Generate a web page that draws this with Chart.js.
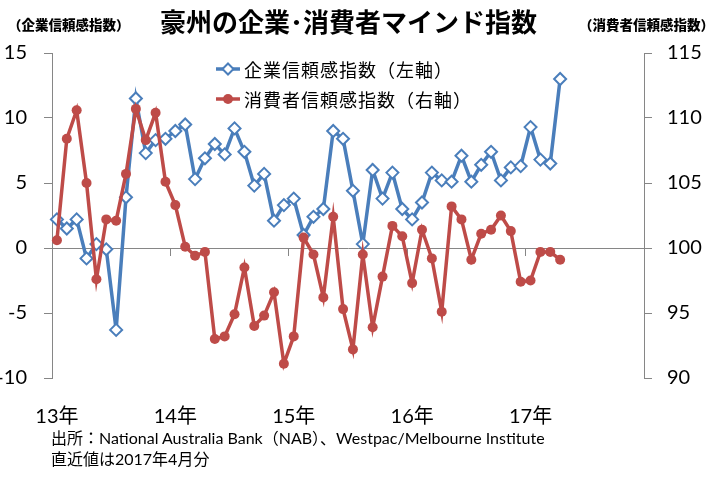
<!DOCTYPE html>
<html lang="ja">
<head>
<meta charset="utf-8">
<title>豪州の企業・消費者マインド指数</title>
<script src="https://cdn.jsdelivr.net/npm/chart.js@4/dist/chart.umd.min.js"></script>
<style>
  html, body { margin: 0; padding: 0; background: #fff; }
  #wrap { position: relative; width: 717px; height: 485px; font-family: "Noto Sans CJK JP", sans-serif; color: #000; }
  #wrap canvas { position: absolute; left: 0; top: 0; }
  .txt { position: absolute; white-space: nowrap; line-height: 1; }
  #title { left: 160px; top: 8px; font-size: 26px; font-weight: bold; }
  .axis-title { top: 18px; font-size: 13.5px; font-weight: 900; }
  #lt { left: 8px; }
  #rt { left: 579px; }
  .legend-row { position: absolute; left: 215px; height: 20px; display: flex; align-items: center; font-size: 18px; letter-spacing: 1px; }
  .legend-row svg { margin-right: 3px; }
  .note { left: 51px; font-size: 16px; font-family: Lato, "Noto Sans CJK JP", sans-serif; }
</style>
</head>
<body>
<div id="wrap">
  <canvas id="chart" width="717" height="485"></canvas>
  <div class="txt" id="title">豪州の企業･消費者マインド指数</div>
  <div class="txt axis-title" id="lt">（企業信頼感指数）</div>
  <div class="txt axis-title" id="rt">（消費者信頼感指数）</div>
  <div class="legend-row" style="top:59px">
    <svg width="26" height="14"><line x1="1" y1="7" x2="25" y2="7" stroke="#4A7EBB" stroke-width="3.5"/><path d="M13 1.5 L18.5 7 L13 12.5 L7.5 7 Z" fill="#fff" stroke="#4A7EBB" stroke-width="2"/></svg>
    <span id="leg1"></span>
  </div>
  <div class="legend-row" style="top:89px">
    <svg width="26" height="14"><line x1="1" y1="7" x2="25" y2="7" stroke="#BE4B48" stroke-width="3.5"/><circle cx="13" cy="7" r="5" fill="#BE4B48"/></svg>
    <span id="leg2"></span>
  </div>
  <div class="txt note" style="top:430px">出所：National Australia Bank（NAB）、Westpac/Melbourne Institute</div>
  <div class="txt note" style="top:451px">直近値は2017年4月分</div>
</div>
<script>
const years = ["13", "14", "15", "16", "17"];
const yearLabels = ["13年", "14年", "15年", "16年", "17年"];
const months = ["01", "02", "03", "04", "05", "06", "07", "08", "09", "10", "11", "12"];
const categories = years.flatMap((y) => months.map((m) => `${y}/${m}`));

const seriesNames = ["企業信頼感指数（左軸）", "消費者信頼感指数（右軸）"];

// NAB business confidence, Jan 2013 - Apr 2017 (left axis)
const businessConf = [
  2.2, 1.5, 2.2, -0.8, 0.3, -0.1, -6.3, 3.9, 11.5, 7.3, 8.3, 8.4,
  9.0, 9.5, 5.3, 6.9, 8.0, 7.2, 9.2, 7.4, 4.8, 5.7, 2.1, 3.3,
  3.8, 1.0, 2.4, 3.0, 9.0, 8.4, 4.4, 0.3, 6.0, 3.8, 5.8, 3.0,
  2.2, 3.5, 5.8, 5.2, 5.1, 7.1, 5.1, 6.4, 7.4, 5.2, 6.2, 6.3,
  9.3, 6.8, 6.5, 13.0,
];

// Westpac/MI consumer sentiment, Jan 2013 - Apr 2017 (right axis)
const consumerConf = [
  100.6, 108.4, 110.6, 105.0, 97.6, 102.2, 102.1, 105.7, 110.7, 108.3, 110.4, 105.1,
  103.3, 100.1, 99.4, 99.7, 93.0, 93.2, 94.9, 98.5, 94.0, 94.8, 96.6, 91.1,
  93.2, 100.8, 99.5, 96.2, 102.4, 95.3, 92.2, 99.5, 93.9, 97.8, 101.7, 100.9,
  97.3, 101.4, 99.2, 95.1, 103.2, 102.2, 99.1, 101.1, 101.4, 102.5, 101.3, 97.4,
  97.5, 99.7, 99.7, 99.1,
];

const leftTicks = [-10, -5, 0, 5, 10, 15];
const rightTicks = [90, 95, 100, 105, 110, 115];

const BLUE = "#4A7EBB";
const RED = "#BE4B48";
const AXIS = "#868686";
const tickFont = { family: "Lato, 'Noto Sans CJK JP', sans-serif", size: 20 };

document.getElementById("leg1").textContent = seriesNames[0];
document.getElementById("leg2").textContent = seriesNames[1];

function initChart() {
  const ctx = document.getElementById("chart").getContext("2d");
  return new Chart(ctx, {
    type: "line",
    data: {
      labels: categories,
      datasets: [
        {
          label: seriesNames[0],
          data: businessConf,
          yAxisID: "y",
          xAxisID: "x",
          borderColor: BLUE,
          borderWidth: 3.5,
          pointStyle: "rectRot",
          pointRadius: 6,
          pointBorderWidth: 2,
          pointBackgroundColor: "#fff",
          pointBorderColor: BLUE,
          tension: 0,
          order: 1,
        },
        {
          label: seriesNames[1],
          data: consumerConf,
          yAxisID: "y1",
          xAxisID: "x",
          borderColor: RED,
          borderWidth: 3.5,
          pointStyle: "circle",
          pointRadius: 5,
          pointBorderWidth: 0,
          pointBackgroundColor: RED,
          pointBorderColor: RED,
          tension: 0,
          order: 0,
        },
      ],
    },
    options: {
      responsive: false,
      devicePixelRatio: 1,
      animation: false,
      layout: { padding: { top: 53, bottom: 57, left: 0, right: 0 } },
      plugins: {
        legend: { display: false },
        tooltip: { enabled: false },
      },
      scales: {
        x: {
          type: "category",
          position: "bottom",
          offset: true,
          grid: { display: false },
          border: { display: false },
          ticks: {
            autoSkip: false,
            maxRotation: 0,
            padding: 19,
            color: "#000",
            font: tickFont,
            callback: (v, i) => (i % 12 === 0 ? yearLabels[i / 12] : ""),
          },
          afterFit: (s) => { s.height = 50; },
        },
        x0: {
          type: "category",
          position: { y: 0 },
          offset: true,
          grid: {
            display: true,
            offset: true,
            drawOnChartArea: false,
            drawTicks: true,
            tickLength: 7,
            color: (c) => (c.index % 12 === 0 ? AXIS : "rgba(0,0,0,0)"),
          },
          border: { display: true, color: AXIS, width: 1 },
          ticks: { display: false, autoSkip: false },
        },
        y: {
          position: "left",
          min: leftTicks[0],
          max: leftTicks[leftTicks.length - 1],
          ticks: { stepSize: leftTicks[1] - leftTicks[0], padding: 17, color: "#000", font: tickFont },
          grid: { drawOnChartArea: false, drawTicks: true, tickLength: 8, color: AXIS },
          border: { display: true, color: AXIS },
          afterFit: (s) => { s.width = 52; },
        },
        y1: {
          position: "right",
          min: rightTicks[0],
          max: rightTicks[rightTicks.length - 1],
          ticks: { stepSize: rightTicks[1] - rightTicks[0], padding: 15, color: "#000", font: tickFont },
          grid: { drawOnChartArea: false, drawTicks: true, tickLength: 8, color: AXIS },
          border: { display: true, color: AXIS },
          afterFit: (s) => { s.width = 73; },
        },
      },
    },
  });
}

initChart();
</script>
</body>
</html>
